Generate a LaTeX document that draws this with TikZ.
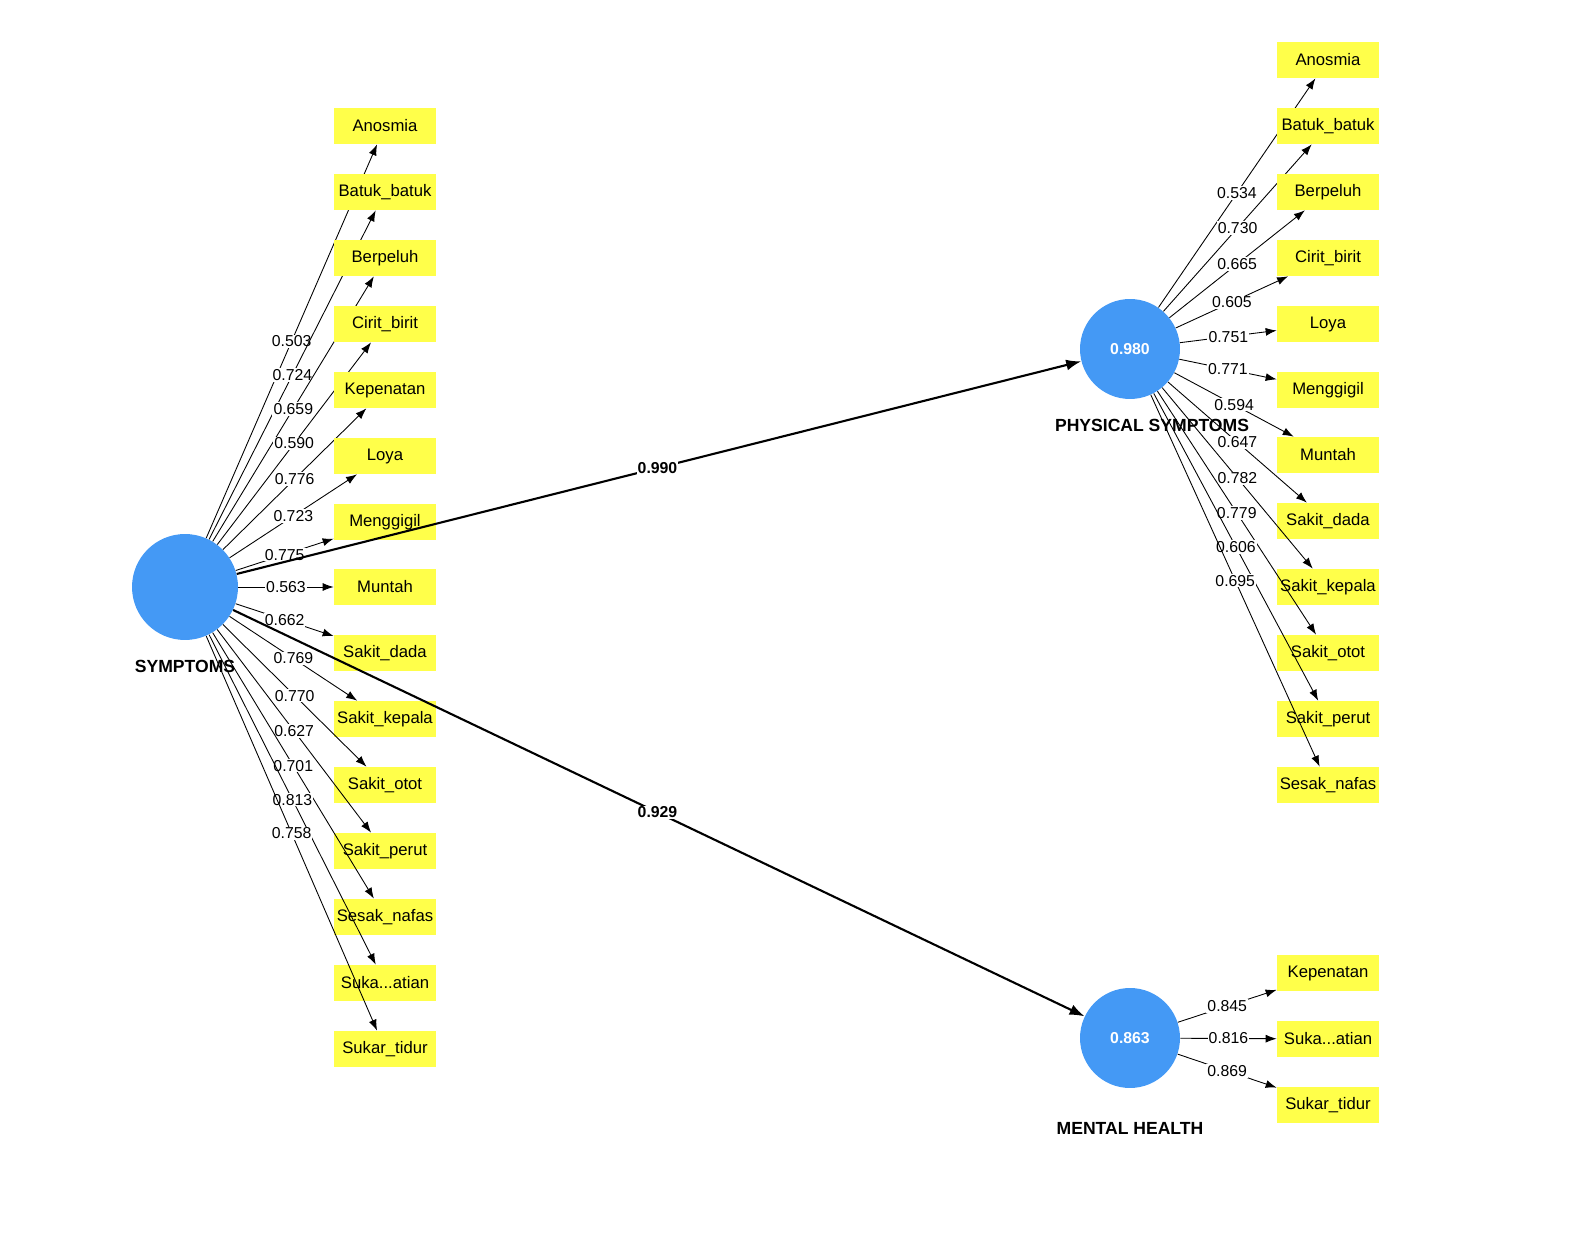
\documentclass[tikz,border=0pt]{standalone}
\usepackage{fontspec}
\setmainfont{Liberation Sans}
\usetikzlibrary{arrows.meta}
\definecolor{indyellow}{HTML}{FFFF4A}
\definecolor{latblue}{HTML}{4499F5}
\newcommand{\sukaname}{Suka...atian}
\begin{document}
\begin{tikzpicture}[x=0.02cm,y=-0.02cm,
  ind/.style={fill=indyellow, minimum width=2.04cm, minimum height=0.72cm, inner sep=0, font=\fontsize{9.5}{11}\selectfont},
  lat/.style={circle, fill=latblue, minimum size=2cm, inner sep=0, text=white, font=\fontsize{9}{11}\selectfont\bfseries},
  load/.style={-{Latex[length=2.2mm,width=1.6mm]}, line width=.5pt},
  struct/.style={-{Latex[length=3mm,width=2.2mm]}, line width=1.2pt},
  val/.style={fill=white, inner sep=.6pt, font=\fontsize{9}{10}\selectfont},
  lname/.style={font=\fontsize{10}{12}\selectfont\bfseries}]
\useasboundingbox (0,0) rectangle (1570,1246);

% LATENT VARIABLES
\node [lat, minimum size=2.12cm] (sym) at (185,587) {};
\node [lat] (phy) at (1130,349) {0.980};
\node [lat] (men) at (1130,1038) {0.863};

% SYMPTOMS INDICATORS
\foreach \name/\y/\v [count=\i] in {Anosmia/126/0.503, Batuk\_batuk/192/0.724, Berpeluh/258/0.659,
  Cirit\_birit/324/0.590, Kepenatan/390/0.776, Loya/456/0.723, Menggigil/522/0.775,
  Muntah/587/0.563, Sakit\_dada/653/0.662, Sakit\_kepala/719/0.769, Sakit\_otot/785/0.770,
  Sakit\_perut/851/0.627, Sesak\_nafas/917/0.701, \sukaname/983/0.813, Sukar\_tidur/1049/0.758}{
  \node [ind] (s\i) at (385,\y) {\name};
  \draw [load] (sym) -- node [val] {\v} (s\i);
}

% PHYSICAL SYMPTOMS INDICATORS
\foreach \name/\y/\v [count=\i] in {Anosmia/60/0.534, Batuk\_batuk/126/0.730, Berpeluh/192/0.665,
  Cirit\_birit/258/0.605, Loya/324/0.751, Menggigil/390/0.771, Muntah/455/0.594,
  Sakit\_dada/521/0.647, Sakit\_kepala/587/0.782, Sakit\_otot/653/0.779,
  Sakit\_perut/719/0.606, Sesak\_nafas/785/0.695}{
  \node [ind] (p\i) at (1328,\y) {\name};
  \draw [load] (phy) -- node [val] {\v} (p\i);
}

% MENTAL HEALTH INDICATORS
\foreach \name/\y/\v [count=\i] in {Kepenatan/973/0.845, \sukaname/1039/0.816, Sukar\_tidur/1105/0.869}{
  \node [ind] (m\i) at (1328,\y) {\name};
  \draw [load] (men) -- node [val] {\v} (m\i);
}

% STRUCTURAL PATHS
\draw [struct] (sym) -- (phy);
\draw [struct] (sym) -- (men);
\path (sym.center) -- node [val, font=\fontsize{9}{10}\selectfont\bfseries] {0.990} (phy.center);
\path (sym.center) -- node [val, font=\fontsize{9}{10}\selectfont\bfseries] {0.929} (men.center);

\node [lname] (symlab) at (185,666) {SYMPTOMS};
\node [lname] (phylab) at (1152,425) {PHYSICAL SYMPTOMS};
\node [lname] (menlab) at (1130,1128) {MENTAL HEALTH};
\end{tikzpicture}
\end{document}
